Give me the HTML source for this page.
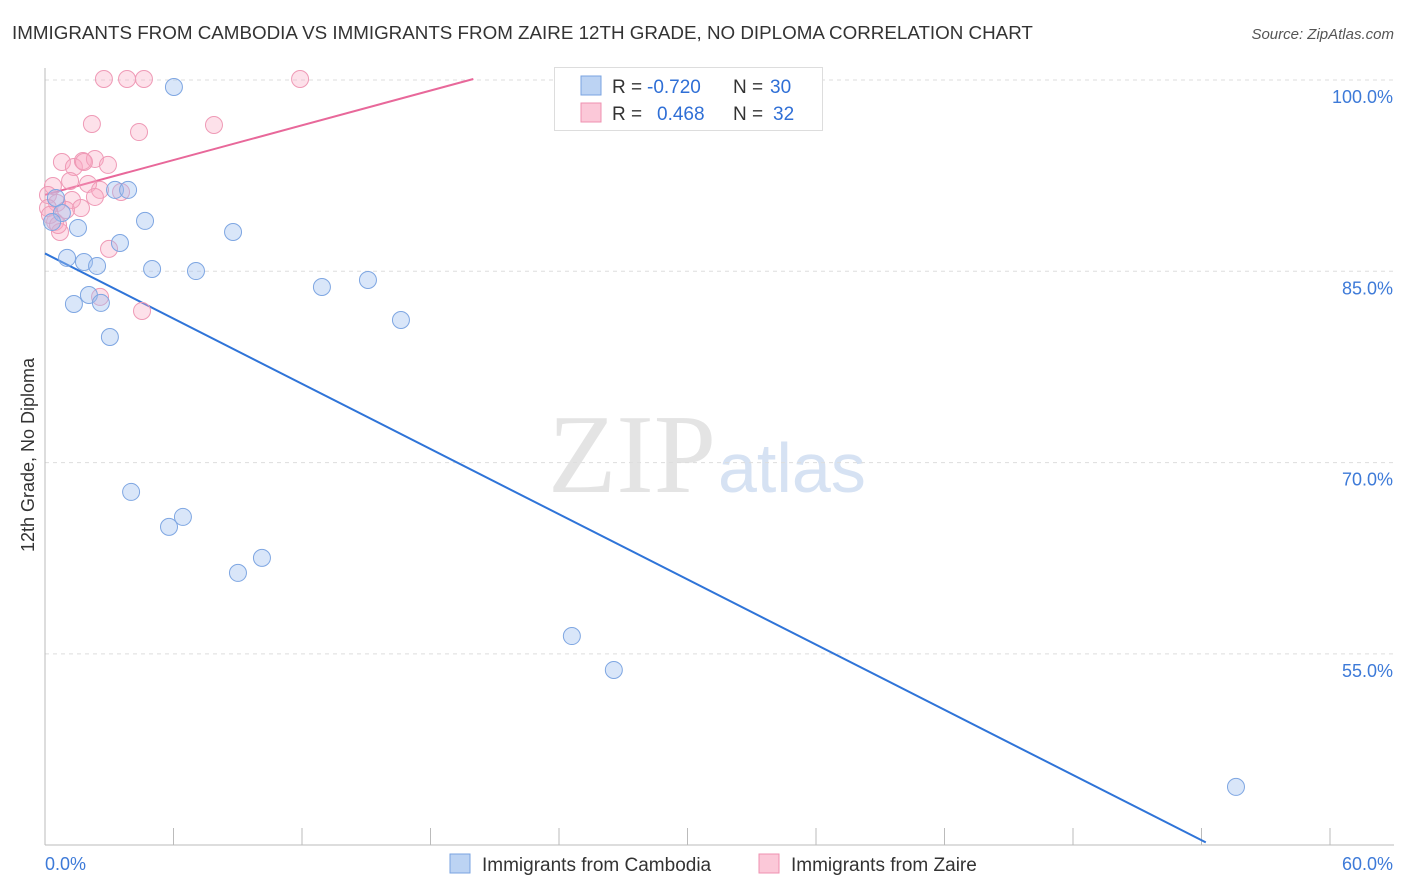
<!DOCTYPE html>
<html><head><meta charset="utf-8"><style>
body{margin:0;background:#fff;font-family:"Liberation Sans",sans-serif;}
svg{display:block}
</style></head><body>
<svg width="1406" height="892">
<text x="12" y="39" font-size="18.8" fill="#333">IMMIGRANTS FROM CAMBODIA VS IMMIGRANTS FROM ZAIRE 12TH GRADE, NO DIPLOMA CORRELATION CHART</text>
<text x="1394" y="39" font-size="15" fill="#555" font-style="italic" text-anchor="end">Source: ZipAtlas.com</text>
<text x="716" y="492" font-size="112" fill="#e4e4e4" text-anchor="end" font-family="Liberation Serif,serif">ZIP</text>
<text x="718" y="492" font-size="70" fill="#d6e2f3">atlas</text>
<text transform="translate(34,455) rotate(-90)" font-size="18" fill="#333" text-anchor="middle">12th Grade, No Diploma</text>
<g id="grid"></g><g id="axes"></g><g id="lines"></g><g id="pts"></g>
<g>
<rect x="554.5" y="67.5" width="268" height="63" fill="#fff" stroke="#ddd"/>
<rect x="581" y="76" width="20" height="19" fill="#bcd3f3" stroke="#7aa3e0"/>
<rect x="581" y="103" width="20" height="19" fill="#fbc8d8" stroke="#ef91b0"/>
<text x="612" y="93" font-size="19" fill="#333">R =</text>
<text x="647" y="93" font-size="19" fill="#2f6fd6">-0.720</text>
<text x="733" y="93" font-size="19" fill="#333">N =</text>
<text x="770" y="93" font-size="19" fill="#2f6fd6">30</text>
<text x="612" y="120" font-size="19" fill="#333">R =</text>
<text x="657" y="120" font-size="19" fill="#2f6fd6">0.468</text>
<text x="733" y="120" font-size="19" fill="#333">N =</text>
<text x="773" y="120" font-size="19" fill="#2f6fd6">32</text>
</g>
<g>
<rect x="450" y="854" width="20" height="19" fill="#bcd3f3" stroke="#7aa3e0"/>
<text x="482" y="871" font-size="19" fill="#333">Immigrants from Cambodia</text>
<rect x="759" y="854" width="20" height="19" fill="#fbc8d8" stroke="#ef91b0"/>
<text x="791" y="871" font-size="19" fill="#333">Immigrants from Zaire</text>
</g>
</svg>
<script>
const yTicks=[100,85,70,55];
const xTickLabels=["0.0%","60.0%"];
const blueX=[6.02,0.51,0.79,0.33,1.54,1.03,1.82,2.43,3.50,3.27,3.88,4.67,8.78,5.00,7.05,12.93,15.08,16.62,1.35,2.05,2.61,3.03,4.02,6.44,5.79,9.01,10.13,24.6,26.56,55.61];
const blueY=[99.45,90.75,89.57,88.87,88.40,86.05,85.73,85.42,87.22,91.38,91.38,88.95,88.08,85.18,85.02,83.77,84.32,81.18,82.44,83.14,82.52,79.85,67.7,65.74,64.96,61.35,62.53,56.4,53.74,44.57];
const pinkX=[2.75,3.83,4.62,11.91,2.19,4.39,7.89,0.79,1.35,1.77,2.33,2.94,1.82,1.17,2.01,0.37,0.14,2.57,3.55,1.26,2.33,1.68,0.56,0.14,0.47,0.70,2.99,2.57,4.53,0.23,0.61,0.98];
const pinkY=[100.08,100.08,100.08,100.08,96.55,95.92,96.47,93.57,93.18,93.65,93.81,93.34,93.57,92.08,91.85,91.69,90.98,91.38,91.22,90.59,90.83,89.96,90.36,89.96,88.87,88.08,86.76,82.99,81.89,89.42,88.63,89.81];
const blueTrend=[86.4,-0.852,0,54.2];
const pinkTrend=[91.0,0.454,0,20];
const NS="http://www.w3.org/2000/svg";
const sx=v=>45+v/60*1285, sy=v=>80+(100-v)/15*191.3;
function mk(t,a,p){const e=document.createElementNS(NS,t);for(const k in a)e.setAttribute(k,a[k]);document.getElementById(p).appendChild(e);return e;}
yTicks.forEach((t,i)=>{
 const l=mk('line',{x1:45,x2:1394,y1:sy(t),y2:sy(t),stroke:'#ddd','stroke-dasharray':'4,4'},'grid');
 
 
 const tx=mk('text',{x:1393,y:sy(t)+23,'font-size':18,fill:'#3d7ad8','text-anchor':'end'},'grid');
 tx.textContent=t.toFixed(1)+'%';
 
 
});
const ax=mk('line',{x1:45,x2:1394,y1:845,y2:845,stroke:'#bbb'},'axes');


const ay=mk('line',{x1:45,x2:45,y1:68,y2:845,stroke:'#bbb'},'axes');


for(let i=1;i<=10;i++){const t=mk('line',{x1:sx(i*6),x2:sx(i*6),y1:828,y2:845,stroke:'#bbb'},'axes');
 
 }
[[0,xTickLabels[0],'start',45],[60,xTickLabels[1],'end',1393]].forEach(d=>{
 const t=mk('text',{x:d[3],y:870,'font-size':18,fill:'#3d7ad8','text-anchor':d[2]},'axes');t.textContent=d[1];
 
 });
[[blueTrend,'#2f74d8','blue-trend-line'],[pinkTrend,'#e8689a','pink-trend-line']].forEach(d=>{
 const [b,m,x0,x1]=d[0];
 const l=mk('line',{x1:sx(x0),y1:sy(b+m*x0),x2:sx(x1),y2:sy(b+m*x1),stroke:d[1],'stroke-width':2},'lines');
 
 });
function pts(X,Y,fill,stroke,name){X.forEach((x,i)=>{
 const c=mk('circle',{cx:sx(x),cy:sy(Y[i]),r:8.5,fill:fill,stroke:stroke,'stroke-width':1},'pts');
 
 });}
pts(pinkX,pinkY,'rgba(248,170,196,0.35)','#ef9ab6','zaire-point');
pts(blueX,blueY,'rgba(160,192,240,0.4)','#7ea6e2','cambodia-point');
</script>
</body></html>
